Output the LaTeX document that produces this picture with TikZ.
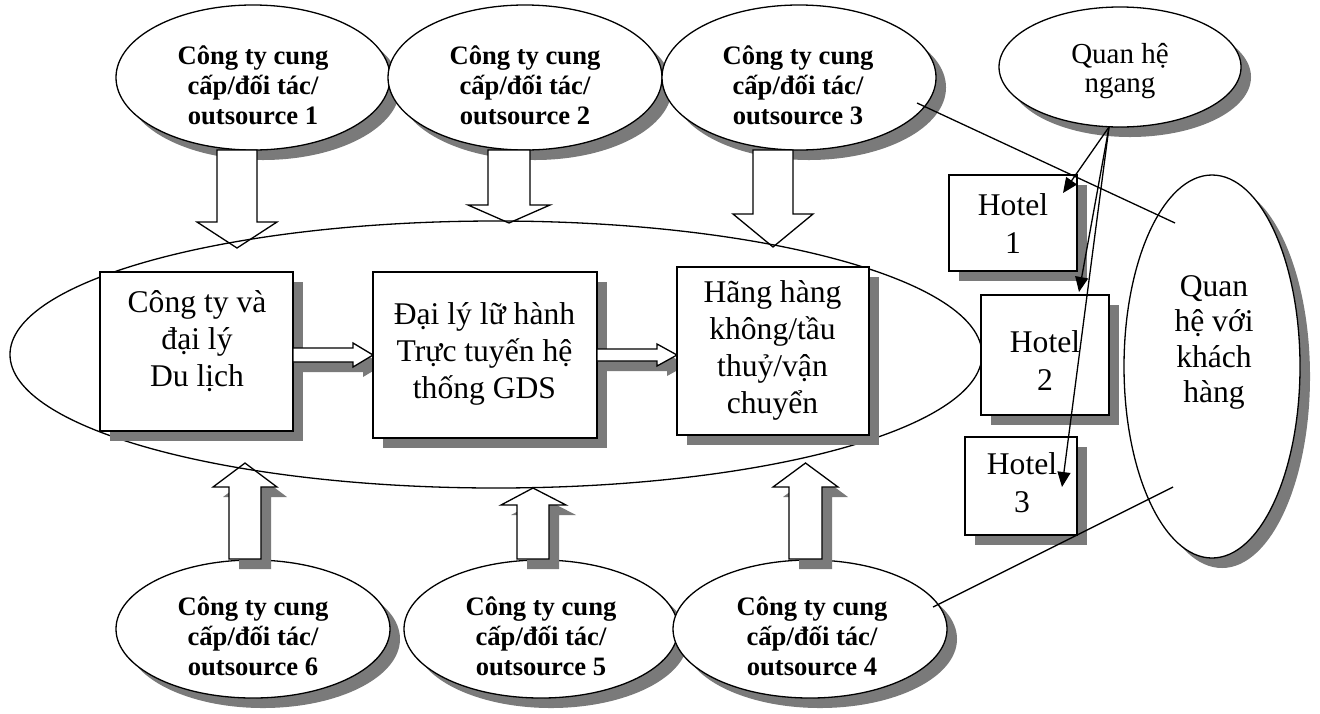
\documentclass[tikz,border=0pt]{standalone}
\usepackage{fontspec}
\setmainfont{Liberation Serif}
\usetikzlibrary{shapes.geometric,shadows,arrows.meta}

\begin{document}
\begin{tikzpicture}[x=0.5pt,y=-0.5pt,
  lw/.style={line width=0.65pt},
  shad/.style={drop shadow={shadow xshift=5pt,shadow yshift=-5pt,opacity=1,fill=black!52}},
  ell/.style={ellipse,draw,lw,fill=white,inner sep=0pt,shad},
  supell/.style={ell,minimum width=137pt,minimum height=72.5pt},
  lowell/.style={ell,minimum width=137pt,minimum height=69pt},
  boldtxt/.style={align=center,font=\fontsize{13.3pt}{15pt}\selectfont\bfseries,inner sep=0pt},
  regtxt/.style={align=center,font=\fontsize{15.8pt}{18.5pt}\selectfont,inner sep=0pt},
  hoteltxt/.style={align=center,font=\fontsize{15.8pt}{19pt}\selectfont,inner sep=0pt},
  ngtxt/.style={align=center,font=\fontsize{14.5pt}{14.5pt}\selectfont,inner sep=0pt},
  khtxt/.style={align=center,font=\fontsize{15.8pt}{17.7pt}\selectfont,inner sep=0pt},
  box/.style={rectangle,draw,lw,fill=white,inner sep=0pt,shad},
  blk/.style={draw,lw,fill=white,line join=miter},
  conn/.style={lw},
  harr/.style={lw,-{Triangle[length=7.5pt,width=6.5pt]}},
]
\useasboundingbox (0,0) rectangle (1320,713);

% supplier ellipses, top row
\node[supell] (s1) at (253,77.5) {};
\node[boldtxt] (s1t) at (253,85.5) {Công ty cung\\cấp/đối tác/\\outsource 1};
\node[supell] (s2) at (525,77.5) {};
\node[boldtxt] (s2t) at (525,85.5) {Công ty cung\\cấp/đối tác/\\outsource 2};
\node[supell] (s3) at (799,77.5) {};
\node[boldtxt] (s3t) at (798,85.5) {Công ty cung\\cấp/đối tác/\\outsource 3};

% supplier ellipses, bottom row
\node[lowell] (s6) at (253,629) {};
\node[boldtxt] (s6t) at (253,636) {Công ty cung\\cấp/đối tác/\\outsource 6};
\node[lowell] (s5) at (541,629) {};
\node[boldtxt] (s5t) at (541,636) {Công ty cung\\cấp/đối tác/\\outsource 5};
\node[lowell] (s4) at (810,629) {};
\node[boldtxt] (s4t) at (812,636) {Công ty cung\\cấp/đối tác/\\outsource 4};

% block arrows, top (down)
\draw[blk] (217,150) -- (217,222) -- (197,222) -- (237,248) -- (277,222) -- (257,222) -- (257,150) -- cycle;
\draw[blk] (488,150) -- (488,205) -- (468,205) -- (509,223) -- (550,205) -- (530,205) -- (530,150) -- cycle;
\draw[blk] (753,150) -- (753,214) -- (733,214) -- (773,247) -- (813,214) -- (793,214) -- (793,150) -- cycle;

% block arrows, bottom (up)
\draw[blk,shad] (229,559) -- (229,487) -- (213,487) -- (245,463) -- (277,487) -- (261,487) -- (261,559) -- cycle;
\draw[blk,shad] (517,559) -- (517,505) -- (501,505) -- (533,488) -- (566,505) -- (549,505) -- (549,559) -- cycle;
\draw[blk,shad] (789,559) -- (789,487) -- (773,487) -- (805.5,463) -- (838,487) -- (822,487) -- (822,559) -- cycle;

% big ellipse
\node[ellipse,draw,lw,inner sep=0pt,minimum width=486pt,minimum height=133.5pt] (big) at (496,354.5) {};

% boxes and arrows between them
\node[box,minimum width=96.5pt,minimum height=79.5pt] (bA) at (196.5,351.5) {};
\node[regtxt] (tA) at (197,341) {Công ty và\\đại lý\\Du lịch};
\draw[blk,shad] (293,348) -- (353,348) -- (353,343) -- (373,355) -- (353,367) -- (353,362) -- (293,362) -- cycle;
\node[box,minimum width=112pt,minimum height=83pt] (bB) at (485,355) {};
\node[regtxt] (tB) at (484.5,354) {Đại lý lữ hành\\Trực tuyến hệ\\thống GDS};
\draw[blk,shad] (597,349) -- (657,349) -- (657,344) -- (677,355) -- (657,366) -- (657,361) -- (597,361) -- cycle;
\node[box,minimum width=96pt,minimum height=84pt] (bC) at (773,351) {};
\node[regtxt] (tC) at (772.5,350.5) {Hãng hàng\\không/tầu\\thuỷ/vận\\chuyển};

% right side
\node[ell,minimum width=121pt,minimum height=60pt] (ng) at (1120,67) {};
\node[ngtxt] (ngt) at (1120,71) {Quan hệ\\ngang};
\node[ell,minimum width=88pt,minimum height=191.5pt] (kh) at (1212,366.5) {};
\node[khtxt] (kht) at (1214,342.5) {Quan\\hệ với\\khách\\hàng};

\node[box,minimum width=64pt,minimum height=48pt] (h1) at (1013,223) {};
\node[hoteltxt] (h1t) at (1013,224) {Hotel\\1};
\node[box,minimum width=64pt,minimum height=60pt] (h2) at (1045,355) {};
\node[hoteltxt] (h2t) at (1045,361) {Hotel\\2};
\node[box,minimum width=56pt,minimum height=49pt] (h3) at (1021,486) {};
\node[hoteltxt] (h3t) at (1022,483) {Hotel\\3};

% connectors
\coordinate (l1s) at (917,103);
\coordinate (l1e) at (1175,223);
\coordinate (l2s) at (933,607);
\coordinate (l2e) at (1173,487);
\draw[conn] (l1s) -- (l1e);
\draw[conn] (l2s) -- (l2e);

\coordinate (ngo) at (1109,127);
\coordinate (h1p) at (1063,193);
\coordinate (h2p) at (1079,292);
\coordinate (h3p) at (1062,487);
\draw[harr] (ngo) -- (h1p);
\draw[harr] (ngo) -- (h2p);
\draw[harr] (ngo) -- (h3p);
\end{tikzpicture}
\end{document}
